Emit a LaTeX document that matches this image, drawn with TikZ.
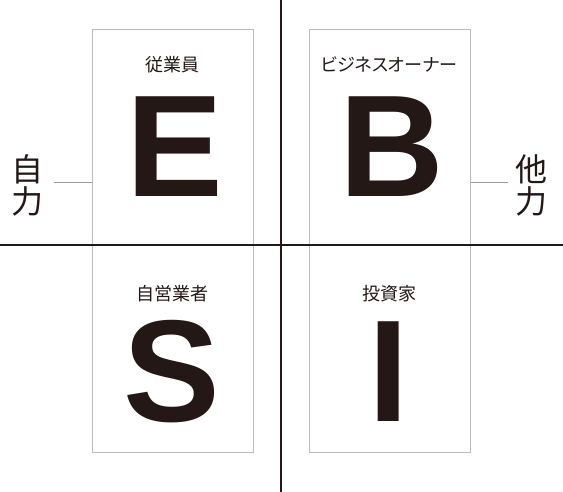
\documentclass[tikz,border=0pt]{standalone}
\usepackage{fontspec}
\setmainfont{Liberation Sans}
\newfontfamily\jpfont{Noto Sans CJK JP}
\newfontfamily\jppfont[RawFeature=+palt]{Noto Sans CJK JP}
\definecolor{ink}{HTML}{231815}
\definecolor{boxgray}{HTML}{BBBBBB}
\definecolor{conngray}{HTML}{9A9A9A}
\tikzset{
  axis/.style={draw=ink, line width=1.4pt},
  colbox/.style={draw=boxgray, line width=1pt, minimum width=161pt, minimum height=422pt, inner sep=0pt},
  conn/.style={draw=conngray, line width=0.8pt},
  biglet/.style={text=ink, inner sep=0pt, anchor=base, font=\fontsize{145}{145}\selectfont\bfseries},
  lab/.style={text=ink, inner sep=0pt, anchor=base, font=\jpfont\fontsize{18}{18}\selectfont},
  labp/.style={text=ink, inner sep=0pt, anchor=base, font=\jppfont\fontsize{18}{18}\selectfont},
  side/.style={text=ink, inner sep=0pt, align=center, font=\jpfont\fontsize{32}{32}\selectfont}
}
\begin{document}
\begin{tikzpicture}[x=1pt,y=-1pt]
\useasboundingbox (0,0) rectangle (563,492);
% columns
\node[colbox] (boxL) at (172.5,241) {};
\node[colbox] (boxR) at (389.5,241) {};
% axes
\coordinate (vt) at (281,0);
\coordinate (vb) at (281,492);
\coordinate (hl) at (0,245);
\coordinate (hr) at (563,245);
\draw[axis] (vt) -- (vb);
\draw[axis] (hl) -- (hr);
% labels
\node[lab] (labE) at (172.5,72) {従業員};
\node[labp] (labB) at (389,72) {ビジネスオーナー};
\node[lab] (labS) at (172.5,300) {自営業者};
\node[lab] (labI) at (389.5,300) {投資家};
% big letters
\node[biglet] (E) at (175,197) {E};
\node[biglet] (B) at (392,197) {B};
\node[biglet] (S) at (172,421) {S};
\node[biglet] (I) at (389,421) {I};
% side texts
\node[side] (jiriki) at (28,185) {自\\力};
\node[side] (tariki) at (531,185) {他\\力};
\coordinate (cl) at (54,182);
\coordinate (cr) at (508,182);
\draw[conn] (cl) -- (cl -| boxL.west);
\draw[conn] (boxR.east |- cr) -- (cr);
\end{tikzpicture}
\end{document}
